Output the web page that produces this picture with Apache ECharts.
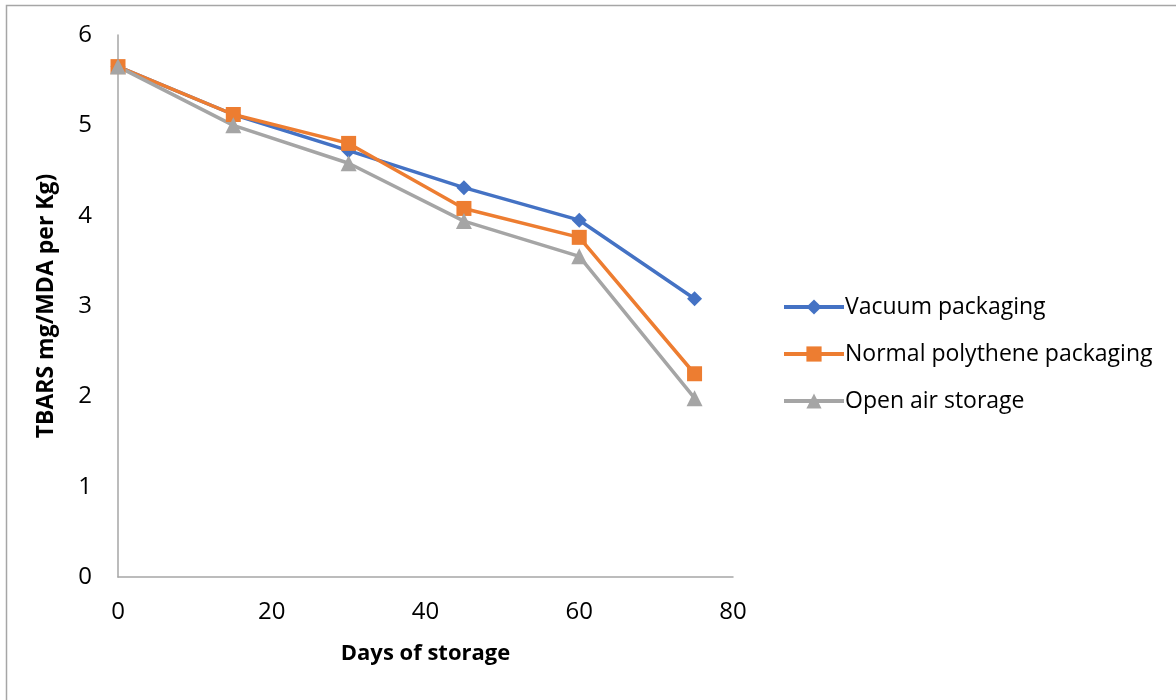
<!DOCTYPE html>
<html>
<head>
<meta charset="utf-8">
<script src="https://cdn.jsdelivr.net/npm/echarts@6/dist/echarts.min.js"></script>
<style>
  html, body { margin: 0; padding: 0; background: #fff; }
  #chart { width: 1176px; height: 700px; }
</style>
</head>
<body>
<div id="chart"></div>
<script>
// Storage days and TBARS readings (mg MDA per kg)
const days = [0, 15, 30, 45, 60, 75];
const vacuum = [5.65, 5.12, 4.72, 4.31, 3.95, 3.08];
const polythene = [5.65, 5.12, 4.80, 4.08, 3.76, 2.25];
const openAir = [5.65, 5.00, 4.58, 3.94, 3.55, 1.98];
const seriesNames = ['Vacuum packaging', 'Normal polythene packaging', 'Open air storage'];
const xTicks = { min: 0, max: 80, interval: 20 };
const yTicks = { min: 0, max: 6, interval: 1 };

const pairs = vals => days.map((d, i) => [d, vals[i]]);
const font = '"Open Sans", "Noto Sans", sans-serif';

const chart = echarts.init(document.getElementById('chart'));

function lineSeries(name, vals, color, symbol, size) {
  return {
    name: name,
    type: 'line',
    data: pairs(vals),
    symbol: symbol,
    symbolSize: size,
    showAllSymbol: true,
    lineStyle: { color: color, width: 3.5 },
    itemStyle: { color: color },
    emphasis: { disabled: true },
    animation: false
  };
}

chart.setOption({
  animation: false,
  backgroundColor: '#fff',
  graphic: [{
    type: 'rect',
    shape: { x: 6.5, y: 5.5, width: 1200, height: 720 },
    style: { fill: 'none', stroke: '#a6a6a6', lineWidth: 1.5 },
    silent: true
  }],
  grid: { left: 118, right: 443, top: 35, bottom: 123, containLabel: false },
  legend: {
    data: seriesNames,
    orient: 'vertical',
    left: 777,
    top: 289,
    itemGap: 21,
    itemWidth: 60,
    itemHeight: 19,
    lineStyle: { width: 4 },
    textStyle: { fontFamily: font, fontSize: 23, lineHeight: 26, color: '#000', padding: [0, 0, 0, -4] }
  },
  xAxis: {
    type: 'value',
    min: xTicks.min, max: xTicks.max, interval: xTicks.interval,
    name: 'Days of storage',
    nameLocation: 'middle',
    nameGap: 66,
    nameTextStyle: { fontFamily: font, fontSize: 22, fontWeight: 'bold', color: '#000' },
    axisLine: { show: true, lineStyle: { color: '#a6a6a6', width: 1.5 } },
    axisTick: { show: false },
    splitLine: { show: false },
    axisLabel: { fontFamily: font, fontSize: 24, color: '#000', margin: 23 }
  },
  yAxis: {
    type: 'value',
    min: yTicks.min, max: yTicks.max, interval: yTicks.interval,
    name: 'TBARS mg/MDA per Kg)',
    nameLocation: 'middle',
    nameGap: 60,
    nameTextStyle: { fontFamily: font, fontSize: 23, fontWeight: 'bold', color: '#000' },
    axisLine: { show: true, lineStyle: { color: '#a6a6a6', width: 1.5 } },
    axisTick: { show: false },
    splitLine: { show: false },
    axisLabel: { fontFamily: font, fontSize: 24, color: '#000', margin: 26 }
  },
  series: [
    lineSeries(seriesNames[0], vacuum, '#4472C4', 'diamond', 15),
    lineSeries(seriesNames[1], polythene, '#ED7D31', 'rect', 15),
    lineSeries(seriesNames[2], openAir, '#A5A5A5', 'triangle', 16)
  ]
});
</script>
</body>
</html>
